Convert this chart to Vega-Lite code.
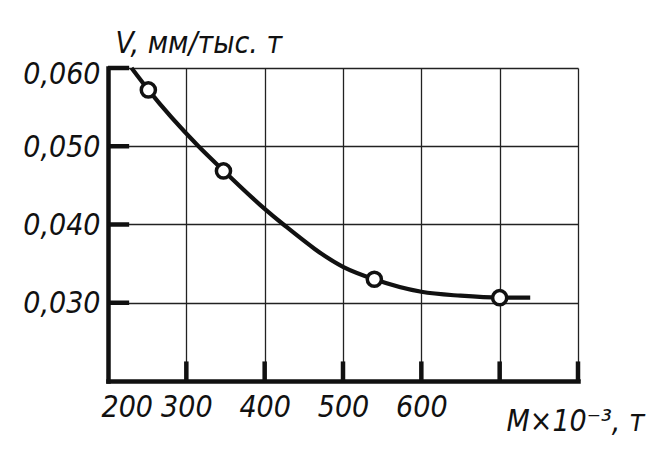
{
  "$schema": "https://vega.github.io/schema/vega-lite/v6.json",
  "width": 470,
  "height": 313,
  "autosize": {"type": "none"},
  "padding": {"left": 108, "top": 68, "right": 94, "bottom": 71},
  "background": "white",
  "config": {
    "view": {"stroke": null},
    "font": "DejaVu Sans Condensed",
    "axis": {
      "labelFont": "DejaVu Sans Condensed",
      "titleFont": "DejaVu Sans Condensed",
      "labelFontStyle": "italic",
      "titleFontStyle": "italic",
      "titleFontWeight": "normal",
      "labelFontSize": 30,
      "titleFontSize": 30,
      "labelColor": "#111",
      "titleColor": "#111",
      "domainColor": "#111",
      "domainWidth": 4.5,
      "domainCap": "square",
      "ticks": false,
      "gridColor": "#222",
      "gridWidth": 1.3,
      "gridOpacity": 1
    }
  },
  "datasets": {
    "curve": [
      {"M": 230, "V": 0.0600},
      {"M": 251.5, "V": 0.0572},
      {"M": 315.5, "V": 0.0500},
      {"M": 347.4, "V": 0.0469},
      {"M": 400, "V": 0.0420},
      {"M": 424, "V": 0.0400},
      {"M": 500, "V": 0.0346},
      {"M": 540, "V": 0.0330},
      {"M": 600, "V": 0.0314},
      {"M": 650, "V": 0.0309},
      {"M": 700, "V": 0.03065},
      {"M": 739, "V": 0.03065}
    ],
    "points": [
      {"M": 251.5, "V": 0.0572},
      {"M": 347.4, "V": 0.04685},
      {"M": 540, "V": 0.0330},
      {"M": 700, "V": 0.03065}
    ],
    "xticks": [{"M": 300}, {"M": 400}, {"M": 500}, {"M": 600}, {"M": 700}, {"M": 800}],
    "yticks": [{"V": 0.03}, {"V": 0.04}, {"V": 0.05}, {"V": 0.06}]
  },
  "layer": [
    {
      "data": {"name": "curve"},
      "mark": {"type": "line", "interpolate": "monotone", "color": "#111", "strokeWidth": 4.2},
      "encoding": {
        "x": {
          "field": "M",
          "type": "quantitative",
          "scale": {"domain": [200, 800], "nice": false, "zero": false},
          "axis": {
            "values": [200, 300, 400, 500, 600, 700, 800],
            "labelExpr": "datum.value <= 600 ? datum.label : ''",
            "format": "d",
            "labelPadding": 11,
            "labelOffset": {"condition": {"test": "datum.value == 200", "value": -7}, "value": 0},
            "title": "M×10⁻³, т",
            "titleAlign": "left",
            "titleBaseline": "alphabetic",
            "titleX": 398,
            "titleY": 49
          }
        },
        "y": {
          "field": "V",
          "type": "quantitative",
          "scale": {"domain": [0.02, 0.06], "nice": false, "zero": false},
          "axis": {
            "values": [0.02, 0.03, 0.04, 0.05, 0.06],
            "labelExpr": "datum.value < 0.025 ? '' : replace(format(datum.value, '.3f'), '.', ',')",
            "labelPadding": 8,
            "labelOffset": {"condition": {"test": "datum.value > 0.055", "value": 6}, "value": 1},
            "title": "V, мм/тыс. т",
            "titleAngle": 0,
            "titleAlign": "left",
            "titleBaseline": "alphabetic",
            "titleX": 7,
            "titleY": -16
          }
        }
      }
    },
    {
      "data": {"name": "xticks"},
      "mark": {"type": "rule", "color": "#111", "strokeWidth": 4.5, "opacity": 1},
      "encoding": {
        "x": {"field": "M", "type": "quantitative"},
        "y": {"datum": 0.02, "type": "quantitative"},
        "y2": {"datum": 0.0225}
      }
    },
    {
      "data": {"name": "yticks"},
      "mark": {"type": "rule", "color": "#111", "strokeWidth": 4.5, "opacity": 1},
      "encoding": {
        "x": {"datum": 200, "type": "quantitative"},
        "x2": {"datum": 227},
        "y": {"field": "V", "type": "quantitative"}
      }
    },
    {
      "data": {"name": "points"},
      "mark": {"type": "point", "shape": "circle", "filled": true, "fill": "white", "stroke": "#111", "strokeWidth": 3.5, "size": 200, "opacity": 1},
      "encoding": {
        "x": {"field": "M", "type": "quantitative"},
        "y": {"field": "V", "type": "quantitative"}
      }
    }
  ]
}
